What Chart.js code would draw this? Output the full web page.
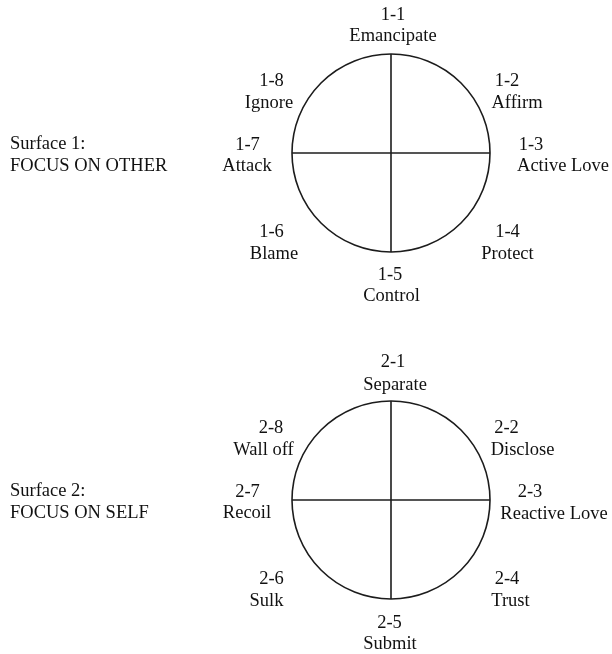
<!DOCTYPE html>
<html>
<head>
<meta charset="utf-8">
<script src="https://cdn.jsdelivr.net/npm/chart.js@4/dist/chart.umd.min.js"></script>
<style>
  html, body { margin: 0; padding: 0; background: #fff; }
  #wrap { position: relative; width: 612px; height: 654px; overflow: hidden; }
  canvas { position: absolute; left: 0; }
  #c1 { top: 0; }
  #c2 { top: 327px; }
  .cap { position: absolute; left: 10px; font-family: 'Liberation Serif', 'Times New Roman', serif;
         font-size: 18.5px; line-height: 21.5px; color: #111; white-space: nowrap; }
</style>
</head>
<body>
<div id="wrap">
  <canvas id="c1" width="612" height="327"></canvas>
  <canvas id="c2" width="612" height="327"></canvas>
  <div class="cap" id="cap1" style="top:133px">Surface 1:<br>FOCUS ON OTHER</div>
  <div class="cap" id="cap2" style="top:480px">Surface 2:<br>FOCUS ON SELF</div>
</div>
<script>
// ---- data ----
const codes1 = ['1-1', '1-2', '1-3', '1-4', '1-5', '1-6', '1-7', '1-8'];
const names1 = ['Emancipate', 'Affirm', 'Active Love', 'Protect', 'Control', 'Blame', 'Attack', 'Ignore'];
const codes2 = ['2-1', '2-2', '2-3', '2-4', '2-5', '2-6', '2-7', '2-8'];
const names2 = ['Separate', 'Disclose', 'Reactive Love', 'Trust', 'Submit', 'Sulk', 'Recoil', 'Wall off'];
const scaleMin = 0;
const scaleMax = 1;

// ---- styling / layout ----
const LINE = '#1c1c1c';
const FONT_FAMILY = "'Liberation Serif', 'Times New Roman', serif";
const FONT_SIZE = 18.5;

// label placement relative to each spoke's outer point: [dxCode, dyCode, dxName, dyName]
const place1 = [
  [2, -40.5, 2, -19],
  [46, -3, 56, 18.5],
  [41, -9.5, 73, 12],
  [46.5, 8, 46.5, 30],
  [-1, 21.5, 0.5, 43],
  [-49.5, 8, -47, 30],
  [-44.5, -9, -45, 12],
  [-49.5, -3, -52, 18.5]
];
const place2 = [
  [2, -40, 4, -17.5],
  [45.5, -3, 61.5, 18.5],
  [40, -9.5, 64, 12.5],
  [46, 8, 49.5, 30],
  [-1.5, 22.5, -1, 44],
  [-49.5, 8, -54.5, 30],
  [-44.5, -9.5, -45, 12],
  [-50, -3, -57.5, 18.5]
];

const ringLabels = {
  id: 'ringLabels',
  afterDraw(chart, args, opts) {
    const r = chart.scales.r;
    const ctx = chart.ctx;
    ctx.save();
    ctx.font = FONT_SIZE + 'px ' + FONT_FAMILY;
    ctx.fillStyle = '#111';
    ctx.textAlign = 'center';
    ctx.textBaseline = 'alphabetic';
    const capHalf = FONT_SIZE * 0.662 / 2;
    chart.data.labels.forEach((code, i) => {
      const p = r.getPointPosition(i, r.getDistanceFromCenterForValue(r.max));
      const o = opts.place[i];
      ctx.fillText(code, p.x + o[0], p.y + o[1] + capHalf);
      ctx.fillText(opts.names[i], p.x + o[2], p.y + o[3] + capHalf);
    });
    ctx.restore();
  }
};

function makeChart(id, codes, names, place, padding) {
  return new Chart(document.getElementById(id), {
    type: 'radar',
    data: { labels: codes, datasets: [] },
    options: {
      responsive: false,
      animation: false,
      devicePixelRatio: 1,
      layout: { padding: padding },
      plugins: {
        legend: { display: false },
        tooltip: { enabled: false },
        ringLabels: { place: place, names: names }
      },
      scales: {
        r: {
          min: scaleMin,
          max: scaleMax,
          ticks: { display: false, stepSize: 1 },
          grid: { circular: true, color: LINE, lineWidth: 1.6 },
          angleLines: {
            display: true,
            color: LINE,
            lineWidth: (ctx) => (ctx.index % 2 === 0 ? 1.6 : 0)
          },
          pointLabels: { display: false }
        }
      }
    },
    plugins: [ringLabels]
  });
}

makeChart('c1', codes1, names1, place1, { left: 292, right: 122, top: 54, bottom: 75 });
makeChart('c2', codes2, names2, place2, { left: 292, right: 122, top: 74, bottom: 55 });
</script>
</body>
</html>
